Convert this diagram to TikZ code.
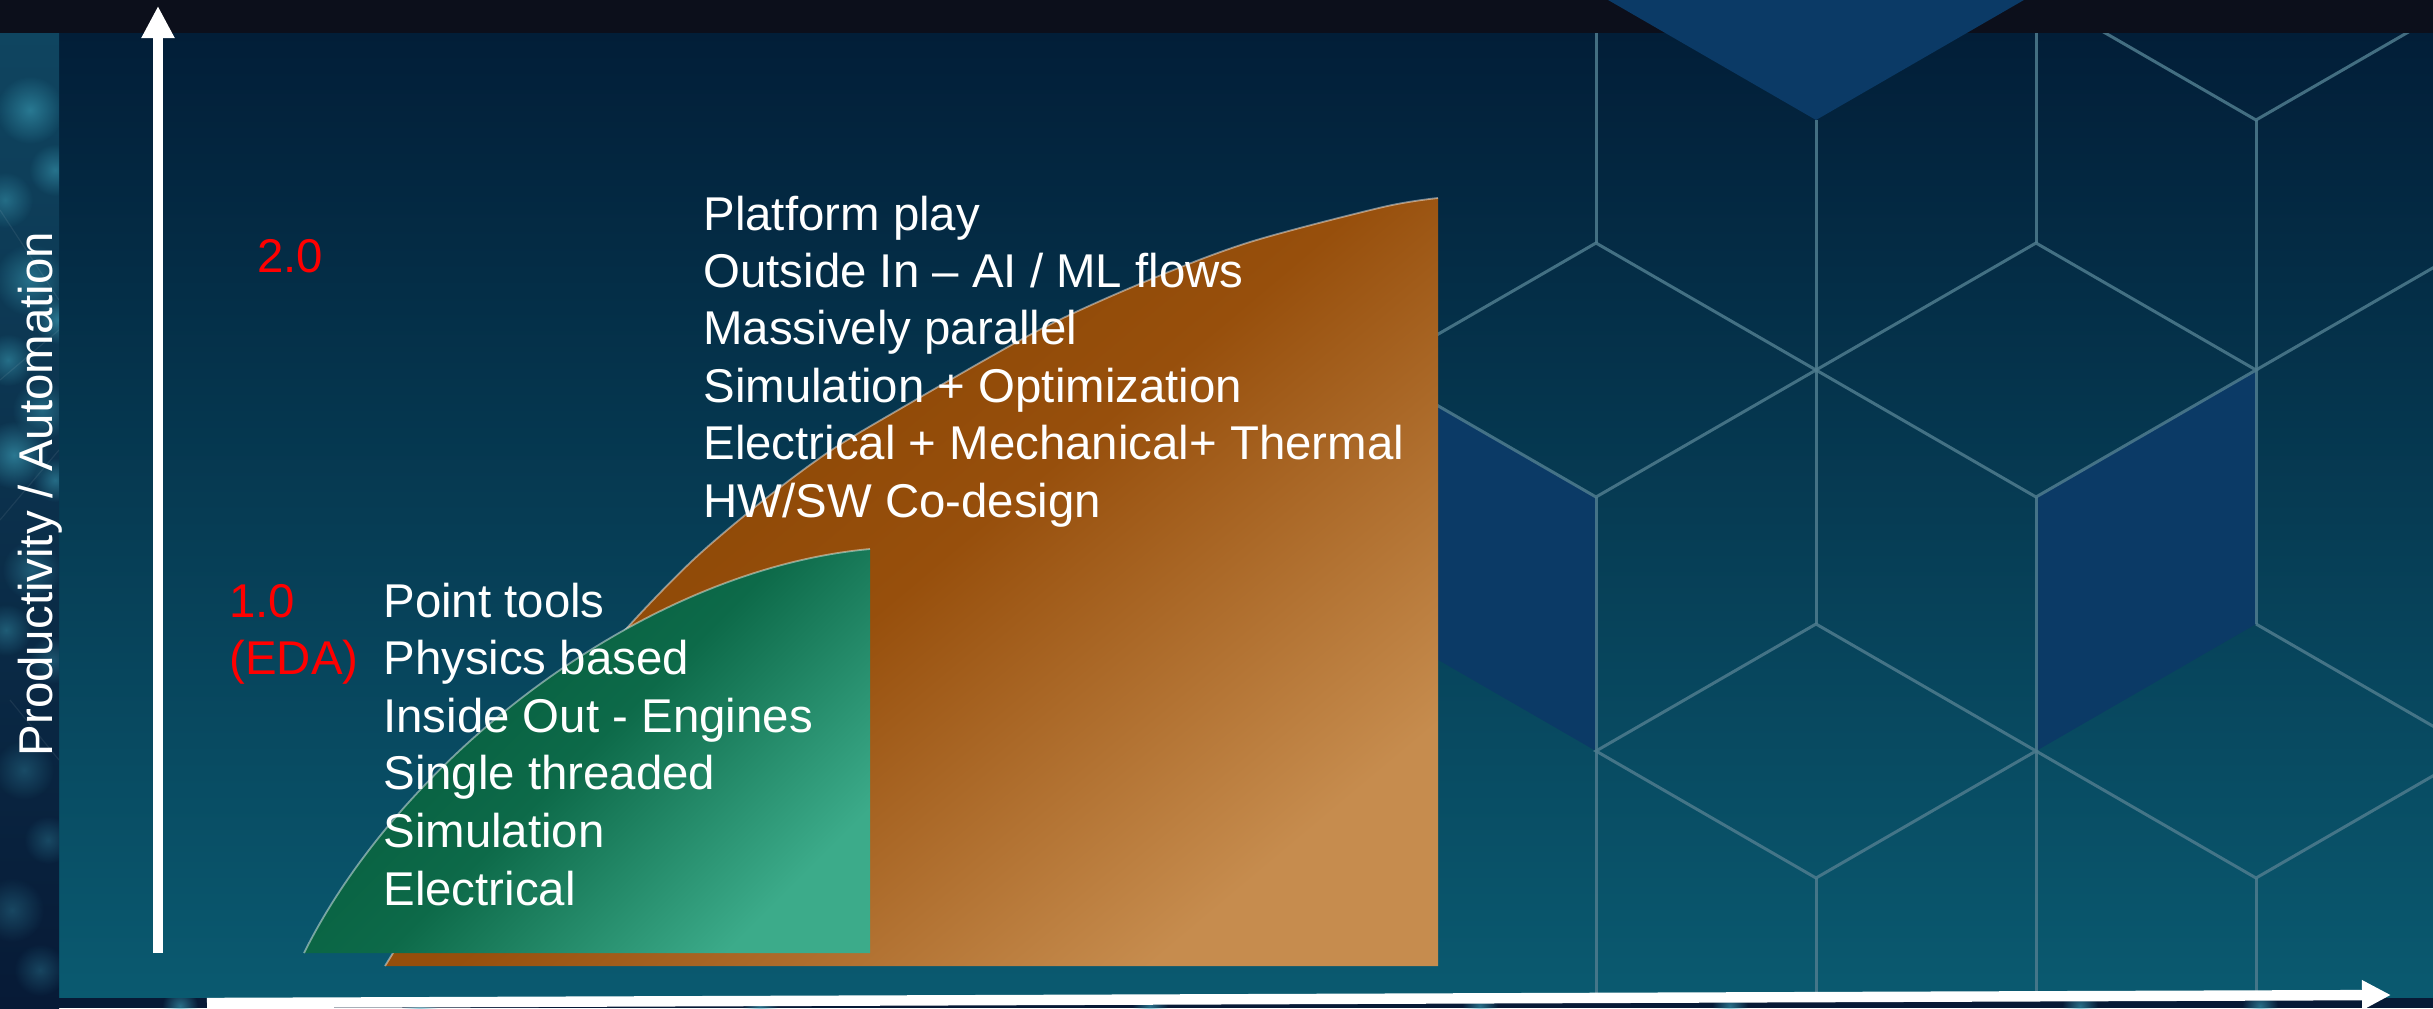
\documentclass[tikz,border=0pt]{standalone}
\usepackage{fontspec}
\setmainfont{Liberation Sans}
\usetikzlibrary{arrows.meta,fadings}

\definecolor{band}{HTML}{0C0F1B}
\definecolor{paneltop}{HTML}{021E38}
\definecolor{panelbot}{HTML}{0A5A70}
\definecolor{hexline}{HTML}{4F7C8E}
\definecolor{hexfill}{HTML}{0B3A66}
\definecolor{orangeA}{HTML}{854200}
\definecolor{orangeB}{HTML}{974F0C}
\definecolor{orangeC}{HTML}{C68C4E}
\definecolor{greenA}{HTML}{03583A}
\definecolor{greenB}{HTML}{0D6A49}
\definecolor{greenC}{HTML}{3CAB8A}
\definecolor{labelred}{HTML}{FF0000}
\definecolor{spot}{HTML}{3FA6BE}
\definecolor{stripA}{HTML}{0F4560}
\definecolor{stripB}{HTML}{071A36}

% soft radial glow used for the blurred lights of the photo strips
\tikzfading[name=softglow, inner color=transparent!0, outer color=transparent!100]

\newcommand\slidefont{\fontsize{23.7}{28}\selectfont}

\tikzset{
  hexedge/.style={draw=hexline, line width=1.5pt, opacity=0.85},
  curveedge/.style={draw=white, line width=0.9pt, opacity=0.45},
  txt/.style={text=white, font=\slidefont, inner sep=0pt, anchor=base west},
  redtxt/.style={txt, text=labelred},
  axisarrow/.style={draw=white, line width=5.2pt},
  glow/.style={fill=spot, path fading=softglow}
}

\begin{document}
\begin{tikzpicture}[x=0.5pt,y=-0.5pt]
\useasboundingbox (0,0) rectangle (2433,1008);

% main panel with vertical gradient
\shade[top color=paneltop, bottom color=panelbot] (59,33) rectangle (2433,998);

% isometric cube pattern on the right
\begin{scope}
  \clip (59,33) rectangle (2433,1008);
  \fill[hexfill] (1376,370) -- (1596,497) -- (1596,751) -- (1376,624) -- cycle;
  \fill[hexfill] (2036,497) -- (2256,370) -- (2256,624) -- (2036,751) -- cycle;
  \draw[hexedge] (1596,243) -- (1816,370) -- (1596,497) -- (1376,370) -- cycle;
  \draw[hexedge] (2036,243) -- (2256,370) -- (2036,497) -- (1816,370) -- cycle;
  \draw[hexedge] (1816,624) -- (2036,751) -- (1816,878) -- (1596,751) -- cycle;
  \draw[hexedge] (2036,751) -- (2256,878) -- (2476,751) -- (2256,624);
  \draw[hexedge] (2036,-7) -- (2256,120) -- (2476,-7);
  \draw[hexedge] (2256,370) -- (2476,243);
  \draw[hexedge] (1596,33) -- (1596,243) (1596,497) -- (1596,1008);
  \draw[hexedge] (1816,120) -- (1816,624) (1816,878) -- (1816,1008);
  \draw[hexedge] (2036,33) -- (2036,243) (2036,497) -- (2036,1008);
  \draw[hexedge] (2256,120) -- (2256,624) (2256,878) -- (2256,1008);
\end{scope}

% 2.0 area (orange)
\shade[top color=orangeA, bottom color=orangeC, middle color=orangeB, shading angle=40]
  plot[smooth] coordinates {(385,966) (440,878) (500,790) (565,703) (627,628) (693,560)
    (760,503) (827,453) (893,413) (1039,330) (1149,280) (1250,242) (1383,207) (1438,198)}
  -- (1438,966) -- cycle;
\draw[curveedge]
  plot[smooth] coordinates {(385,966) (440,878) (500,790) (565,703) (627,628) (693,560)
    (760,503) (827,453) (893,413) (1039,330) (1149,280) (1250,242) (1383,207) (1438,198)};

% 1.0 area (green)
\shade[top color=greenA, bottom color=greenC, middle color=greenB, shading angle=45]
  (304,953) .. controls (400,760) and (640,570) .. (870,549) -- (870,953) -- cycle;
\draw[curveedge] (304,953) .. controls (400,760) and (640,570) .. (870,549);

% top band and the cube face reaching into it
\fill[band] (0,0) rectangle (2433,33);
\begin{scope}
  \clip (0,0) rectangle (2433,1008);
  \fill[hexfill] (1596,-7) -- (1816,120) -- (2036,-7) -- cycle;
\end{scope}

% photographic strip on the left
\begin{scope}
  \clip (0,33) rectangle (59,1008);
  \shade[top color=stripA, bottom color=stripB] (0,33) rectangle (59,1008);
  \foreach \x/\y/\r/\o in {30/110/34/0.55, 55/170/26/0.5, 5/200/28/0.45, 30/280/36/0.5,
      58/320/24/0.6, 8/360/26/0.5, 42/410/30/0.45, 14/455/34/0.6, 55/480/22/0.5,
      32/570/30/0.4, 6/630/26/0.4, 52/660/24/0.35, 24/770/30/0.3, 48/840/24/0.3,
      12/910/32/0.3, 40/970/26/0.3}
    \fill[glow, opacity=\o] (\x,\y) circle[radius=\r];
  \draw[white, opacity=0.07, line width=0.6pt] (0,210) -- (59,300) (0,380) -- (59,330)
    (0,520) -- (59,450) (10,700) -- (59,760);
\end{scope}

% photographic strip at the bottom
\begin{scope}
  \clip (59,998) rectangle (2433,1008);
  \fill[stripB] (59,998) rectangle (2433,1008);
  \foreach \x in {180,420,760,1150,1480,1730,2080,2260}
    \fill[glow, opacity=0.6] (\x,1006) circle[radius=18];
\end{scope}

% axis label
\node[txt, anchor=base, rotate=90] (ylabel) at (53,494) {Productivity / Automation};

% generation labels
\node[redtxt] (gen2) at (257,272) {2.0};
\node[redtxt] (gen1) at (229,617) {1.0};
\node[redtxt] (eda) at (229,674.6) {(EDA)};

% 2.0 characteristics
\foreach \linetext [count=\i] in {Platform play, Outside In \textendash\ AI / ML flows,
    Massively parallel, Simulation + Optimization, Electrical + Mechanical+ Thermal,
    HW/SW Co-design}
  \node[txt] (two\i) at (703,{230+57.4*(\i-1)}) {\linetext};

% 1.0 characteristics
\foreach \linetext [count=\i] in {Point tools, Physics based, Inside Out - Engines,
    Single threaded, Simulation, Electrical}
  \node[txt] (one\i) at (383,{617+57.6*(\i-1)}) {\linetext};

% axes
\coordinate (yfoot) at (158,953);
\coordinate (ytip) at (158,6);
\coordinate (xfoot) at (207,1003);
\coordinate (xtip) at (2391,995);
\draw[axisarrow, -{Triangle[width=15.5pt,length=16pt]}] (yfoot) -- (ytip);
\draw[axisarrow, -{Triangle[width=14pt,length=14.5pt]}] (xfoot) -- (xtip);
\end{tikzpicture}
\end{document}
